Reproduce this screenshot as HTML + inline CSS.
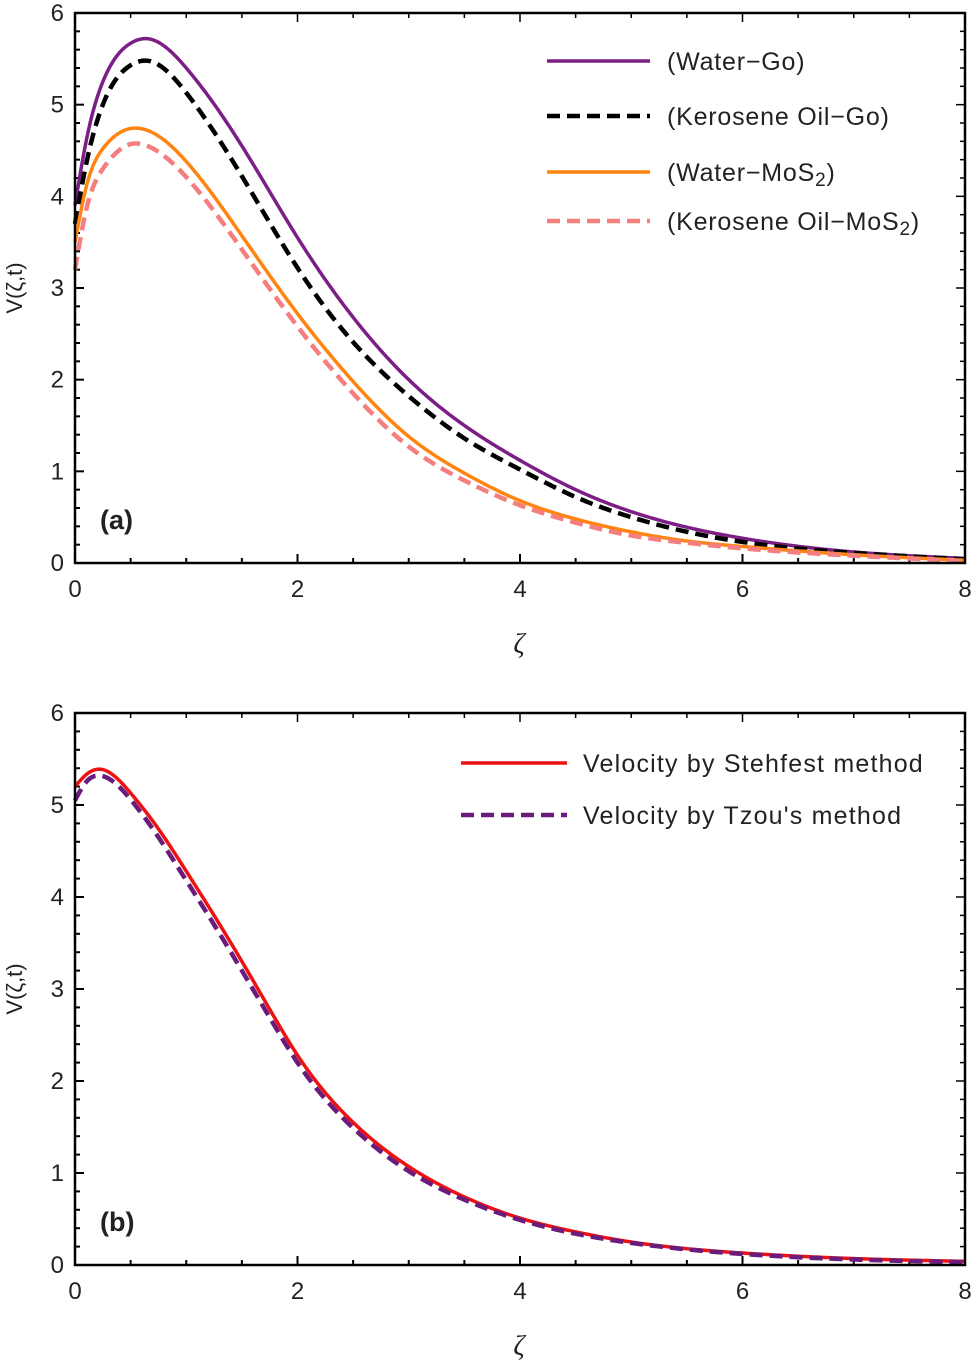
<!DOCTYPE html>
<html><head><meta charset="utf-8"><style>
html,body{margin:0;padding:0;background:#fff;}
svg{display:block;font-family:"Liberation Sans",sans-serif;}
</style></head><body>
<svg id="chart" width="975" height="1362" viewBox="0 0 975 1362" xmlns="http://www.w3.org/2000/svg"></svg>
<script>
// Panel (a) data
const xsA = [0, 0.1, 0.25, 0.5, 0.65, 1.0, 1.5, 2.0, 2.5, 3.0, 3.5, 4.0, 4.5, 5.0, 5.5, 6.0, 7.0, 8.0];
const waterGo = [3.9, 4.6, 5.25, 5.67, 5.72, 5.4, 4.55, 3.55, 2.68, 2.0, 1.5, 1.12, 0.8, 0.56, 0.39, 0.27, 0.12, 0.05];
const keroGo = [3.7, 4.35, 5.0, 5.43, 5.48, 5.13, 4.22, 3.22, 2.41, 1.82, 1.36, 1.02, 0.72, 0.5, 0.34, 0.23, 0.11, 0.04];
const waterMoS2 = [3.5, 4.1, 4.52, 4.74, 4.72, 4.38, 3.57, 2.72, 1.98, 1.38, 0.98, 0.68, 0.48, 0.34, 0.24, 0.18, 0.09, 0.03];
const keroMoS2 = [3.2, 3.85, 4.3, 4.57, 4.55, 4.21, 3.42, 2.58, 1.85, 1.27, 0.9, 0.63, 0.44, 0.3, 0.22, 0.16, 0.08, 0.02];
// Panel (b) data
const xsB = [0, 0.1, 0.22, 0.5, 0.75, 1.0, 1.25, 1.5, 1.75, 2.0, 2.5, 3.0, 3.5, 4.0, 4.5, 5.0, 6.0, 7.0, 8.0];
const stehfest = [5.2, 5.33, 5.39, 5.13, 4.74, 4.28, 3.8, 3.3, 2.78, 2.28, 1.55, 1.07, 0.74, 0.51, 0.36, 0.25, 0.13, 0.07, 0.04];
const tzou = [5.05, 5.25, 5.32, 5.06, 4.65, 4.18, 3.7, 3.2, 2.69, 2.2, 1.49, 1.02, 0.71, 0.49, 0.34, 0.24, 0.12, 0.06, 0.03];
const xTicks = [0, 2, 4, 6, 8];
const yTicks = [0, 1, 2, 3, 4, 5, 6];

const NS = "http://www.w3.org/2000/svg";
const svg = document.getElementById('chart');
function mk(tag, attrs, parent) {
  const e = document.createElementNS(NS, tag);
  for (const k in attrs) e.setAttribute(k, attrs[k]);
  (parent || svg).appendChild(e);
  return e;
}
// natural cubic spline
function spline(xs, ys) {
  const n = xs.length, h = [], a = new Array(n).fill(0), b = new Array(n).fill(0), c = new Array(n).fill(0), r = new Array(n).fill(0);
  for (let i = 0; i < n - 1; i++) h.push(xs[i + 1] - xs[i]);
  b[0] = 1; b[n - 1] = 1;
  for (let i = 1; i < n - 1; i++) {
    a[i] = h[i - 1]; b[i] = 2 * (h[i - 1] + h[i]); c[i] = h[i];
    r[i] = 6 * ((ys[i + 1] - ys[i]) / h[i] - (ys[i] - ys[i - 1]) / h[i - 1]);
  }
  for (let i = 1; i < n; i++) { const w = a[i] / b[i - 1]; b[i] -= w * c[i - 1]; r[i] -= w * r[i - 1]; }
  const M = new Array(n).fill(0);
  M[n - 1] = r[n - 1] / b[n - 1];
  for (let i = n - 2; i >= 0; i--) M[i] = (r[i] - c[i] * M[i + 1]) / b[i];
  return x => {
    let i = 0;
    while (i < n - 2 && x > xs[i + 1]) i++;
    const hi = h[i], A = (xs[i + 1] - x) / hi, B = (x - xs[i]) / hi;
    return A * ys[i] + B * ys[i + 1] + ((A * A * A - A) * M[i] + (B * B * B - B) * M[i + 1]) * hi * hi / 6;
  };
}
function panel(cfg) {
  const L = 75, R = 965, T = cfg.top, B = cfg.bottom;
  const sx = v => L + (R - L) * v / 8;
  const sy = v => B - (B - T) * v / 6;
  const g = mk('g', {});
  
  
  for (let k = 0; k <= 16; k++) {
    const v = k * 0.5;
    const len = (k % 4 === 0) ? 9 : 5;
    const t1 = mk('line', {x1: sx(v), x2: sx(v), y1: B, y2: B - len, stroke: '#000', 'stroke-width': 2}, g);
    
    
    const t2 = mk('line', {x1: sx(v), x2: sx(v), y1: T, y2: T + len, stroke: '#000', 'stroke-width': 1.5}, g);
    
    
  }
  for (let k = 0; k <= 30; k++) {
    const v = k * 0.2;
    const len = (k % 5 === 0) ? 9 : 5;
    const t1 = mk('line', {x1: L, x2: L + len, y1: sy(v), y2: sy(v), stroke: '#000', 'stroke-width': 2}, g);
    
    
    const t2 = mk('line', {x1: R, x2: R - len, y1: sy(v), y2: sy(v), stroke: '#000', 'stroke-width': 1.5}, g);
    
    
  }
  xTicks.forEach(v => {
    const t = mk('text', {x: sx(v), y: B + 34, 'font-size': 24, 'text-anchor': 'middle', fill: '#222'}, g);
    t.textContent = v;
    
    
  });
  yTicks.forEach(v => {
    const t = mk('text', {x: 64, y: sy(v) + 8, 'font-size': 24, 'text-anchor': 'end', fill: '#222'}, g);
    t.textContent = v;
    
    
  });
  cfg.series.forEach(s => {
    const f = spline(cfg.xs, s.values);
    let d = '';
    for (let k = 0; k <= 400; k++) {
      const x = 8 * k / 400;
      d += (k ? ' L' : 'M') + sx(x).toFixed(2) + ',' + sy(f(x)).toFixed(2);
    }
    const p = mk('path', {d: d, fill: 'none', stroke: s.color, 'stroke-width': s.dash ? 4.5 : 3.5, 'stroke-dasharray': s.dash ? '13 7' : 'none', 'stroke-linejoin': 'round'}, g);
    
    
  });
  const fr = mk('rect', {x: L, y: T, width: R - L, height: B - T, fill: 'none', stroke: '#000', 'stroke-width': 2.5}, g);
  
  
  cfg.series.forEach((s, i) => {
    const y = cfg.legY[i];
    const l = mk('line', {x1: cfg.legX1, x2: cfg.legX2, y1: y, y2: y, stroke: s.color, 'stroke-width': s.dash ? 4.5 : 3.5, 'stroke-dasharray': s.dash ? '13 7' : 'none'}, g);
    
    
    const t = mk('text', {x: cfg.legTx, y: y + 9, 'font-size': 25, 'letter-spacing': cfg.ls, fill: '#222'}, g);
    t.innerHTML = s.label;
    
    
  });
  const yl = mk('text', {x: 0, y: 0, 'font-size': 22, 'text-anchor': 'middle', fill: '#222', transform: `translate(22,${(T + B) / 2}) rotate(-90)`}, g);
  yl.textContent = 'V(ζ,t)';
  
  
  const xl = mk('text', {x: 519, y: B + 90, 'font-size': 28, 'font-style': 'italic', 'text-anchor': 'middle', fill: '#222', 'font-family': 'Liberation Serif, serif'}, g);
  xl.textContent = 'ζ';
  
  
  const pl = mk('text', {x: 100, y: B - 34, 'font-size': 27, 'font-weight': 'bold', fill: '#222'}, g);
  pl.textContent = cfg.tag;
  
  
}
const sA = [
  {name: 'water-go-line', values: waterGo, color: '#7b1f86', dash: false, label: '(Water−Go)'},
  {name: 'kerosene-go-line', values: keroGo, color: '#000000', dash: true, label: '(Kerosene Oil−Go)'},
  {name: 'water-mos2-line', values: waterMoS2, color: '#ff8410', dash: false, label: '(Water−MoS<tspan font-size="19" dy="5">2</tspan><tspan dy="-5">)</tspan>'},
  {name: 'kerosene-mos2-line', values: keroMoS2, color: '#f57f7f', dash: true, label: '(Kerosene Oil−MoS<tspan font-size="19" dy="5">2</tspan><tspan dy="-5">)</tspan>'}
];
panel({name: 'panel-a', top: 13, bottom: 563, xs: xsA, series: sA, ls: 0.8,
  legY: [61, 116, 172, 221], legX1: 547, legX2: 650, legTx: 667, tag: '(a)'});
const sB = [
  {name: 'stehfest-line', values: stehfest, color: '#ee1111', dash: false, label: 'Velocity by Stehfest method'},
  {name: 'tzou-line', values: tzou, color: '#6a1b7c', dash: true, label: 'Velocity by Tzou\'s method'}
];
panel({name: 'panel-b', top: 713, bottom: 1265, xs: xsB, series: sB, ls: 1.2,
  legY: [763, 815], legX1: 461, legX2: 567, legTx: 583, tag: '(b)'});
</script>
</body></html>
